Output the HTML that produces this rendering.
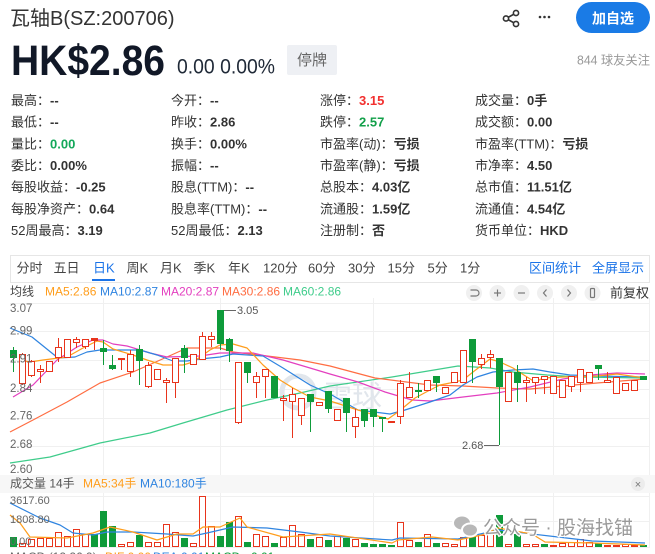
<!DOCTYPE html>
<html><head><meta charset="utf-8"><style>
html,body{margin:0;padding:0;background:#fff;width:655px;height:554px;overflow:hidden}
svg{display:block}
</style></head><body>
<svg width="655" height="554" viewBox="0 0 655 554" xmlns="http://www.w3.org/2000/svg" font-family="'Liberation Sans','Noto Sans CJK SC',sans-serif">
<rect width="655" height="554" fill="#fff"/>
<!-- header -->
<text x="10" y="25" font-size="20" fill="#333">瓦轴B(SZ:200706)</text>
<text x="11" y="75" font-size="43" font-weight="bold" fill="#111827" textLength="154" lengthAdjust="spacingAndGlyphs">HK$2.86</text>
<text x="177" y="73.5" font-size="21" fill="#1f2937" textLength="98" lengthAdjust="spacingAndGlyphs">0.00 0.00%</text>
<rect x="287" y="45" width="50" height="30" rx="2" fill="#eef0f4"/>
<text x="297" y="65" font-size="15" fill="#666">停牌</text>
<g stroke="#333" stroke-width="1.6" fill="none">
<line x1="506" y1="18.5" x2="516" y2="13"/><line x1="506" y1="18.5" x2="516" y2="24"/>
<circle cx="516" cy="13" r="2.6" fill="#fff"/><circle cx="506" cy="18.5" r="2.6" fill="#fff"/><circle cx="516" cy="24" r="2.6" fill="#fff"/>
</g>
<g fill="#333"><circle cx="540" cy="17" r="1.3"/><circle cx="544.5" cy="17" r="1.3"/><circle cx="549" cy="17" r="1.3"/></g>
<rect x="576" y="2" width="74" height="31" rx="15.5" fill="#1a7be6"/>
<text x="613" y="23.5" font-size="14" font-weight="bold" fill="#fff" text-anchor="middle">加自选</text>
<text x="577" y="64.5" font-size="12.5" fill="#999" textLength="73" lengthAdjust="spacingAndGlyphs">844 球友关注</text>
<!-- stats -->
<g font-size="13" fill="#333">
<text x="11" y="105">最高：<tspan font-weight="bold">--</tspan></text>
<text x="11" y="126.7">最低：<tspan font-weight="bold">--</tspan></text>
<text x="11" y="148.3">量比：<tspan font-weight="bold" fill="#13a85a">0.00</tspan></text>
<text x="11" y="170">委比：<tspan font-weight="bold">0.00%</tspan></text>
<text x="11" y="191.7">每股收益：<tspan font-weight="bold">-0.25</tspan></text>
<text x="11" y="213.3">每股净资产：<tspan font-weight="bold">0.64</tspan></text>
<text x="11" y="235">52周最高：<tspan font-weight="bold">3.19</tspan></text>
<text x="171" y="105">今开：<tspan font-weight="bold">--</tspan></text>
<text x="171" y="126.7">昨收：<tspan font-weight="bold">2.86</tspan></text>
<text x="171" y="148.3">换手：<tspan font-weight="bold">0.00%</tspan></text>
<text x="171" y="170">振幅：<tspan font-weight="bold">--</tspan></text>
<text x="171" y="191.7">股息(TTM)：<tspan font-weight="bold">--</tspan></text>
<text x="171" y="213.3">股息率(TTM)：<tspan font-weight="bold">--</tspan></text>
<text x="171" y="235">52周最低：<tspan font-weight="bold">2.13</tspan></text>
<text x="320" y="105">涨停：<tspan font-weight="bold" fill="#f2302f">3.15</tspan></text>
<text x="320" y="126.7">跌停：<tspan font-weight="bold" fill="#13a04a">2.57</tspan></text>
<text x="320" y="148.3">市盈率(动)：<tspan font-weight="bold">亏损</tspan></text>
<text x="320" y="170">市盈率(静)：<tspan font-weight="bold">亏损</tspan></text>
<text x="320" y="191.7">总股本：<tspan font-weight="bold">4.03亿</tspan></text>
<text x="320" y="213.3">流通股：<tspan font-weight="bold">1.59亿</tspan></text>
<text x="320" y="235">注册制：<tspan font-weight="bold">否</tspan></text>
<text x="475" y="105">成交量：<tspan font-weight="bold">0手</tspan></text>
<text x="475" y="126.7">成交额：<tspan font-weight="bold">0.00</tspan></text>
<text x="475" y="148.3">市盈率(TTM)：<tspan font-weight="bold">亏损</tspan></text>
<text x="475" y="170">市净率：<tspan font-weight="bold">4.50</tspan></text>
<text x="475" y="191.7">总市值：<tspan font-weight="bold">11.51亿</tspan></text>
<text x="475" y="213.3">流通值：<tspan font-weight="bold">4.54亿</tspan></text>
<text x="475" y="235">货币单位：<tspan font-weight="bold">HKD</tspan></text>
</g>
<!-- tabs -->
<rect x="10.5" y="255.5" width="639" height="27" fill="none" stroke="#e6e6e6"/>
<g font-size="13" fill="#444">
<text x="16.5" y="272.5">分时</text><text x="53.5" y="272.5">五日</text>
<text x="93" y="272.5" fill="#1a73e8">日K</text>
<text x="126.5" y="272.5">周K</text><text x="160" y="272.5">月K</text><text x="193.5" y="272.5">季K</text><text x="228" y="272.5">年K</text>
<text x="263" y="272.5">120分</text><text x="308" y="272.5">60分</text><text x="348" y="272.5">30分</text><text x="387.5" y="272.5">15分</text><text x="427.5" y="272.5">5分</text><text x="460" y="272.5">1分</text>
<text x="529" y="272.5" fill="#1a73e8">区间统计</text><text x="592" y="272.5" fill="#1a73e8">全屏显示</text>
</g>
<rect x="92" y="279" width="23" height="2" fill="#1a73e8"/>
<!-- MA legend -->
<g font-size="12">
<text x="10" y="295.5" fill="#444">均线</text>
<text x="45" y="295.5" fill="#ff9d1b">MA5:2.86</text>
<text x="100" y="295.5" fill="#2f84e0">MA10:2.87</text>
<text x="161" y="295.5" fill="#e33fbf">MA20:2.87</text>
<text x="222" y="295.5" fill="#ff6d42">MA30:2.86</text>
<text x="283" y="295.5" fill="#3fcc8b">MA60:2.86</text>
</g>
<g fill="#f0f0f0"><circle cx="474" cy="293" r="8"/><circle cx="497.5" cy="293" r="8"/><circle cx="521.5" cy="293" r="8"/><circle cx="545" cy="293" r="8"/><circle cx="569" cy="293" r="8"/><circle cx="592.5" cy="293" r="8"/></g>
<g stroke="#777" stroke-width="1.2" fill="none">
<path d="M470.5 290 H476 A3 3 0 0 1 476 296 H470.5"/>
<line x1="494" y1="293" x2="501" y2="293"/><line x1="497.5" y1="289.5" x2="497.5" y2="296.5"/>
<line x1="518" y1="293" x2="525" y2="293"/>
<path d="M546.5 289.5 L543.5 293 L546.5 296.5"/>
<path d="M567.5 289.5 L570.5 293 L567.5 296.5"/>
<rect x="590.5" y="288.5" width="4" height="9" rx="1"/>
</g>
<text x="610" y="297.5" font-size="13" fill="#333">前复权</text>
<!-- grid -->
<g stroke="#f0f0f0" stroke-width="1">
<line x1="10" y1="303.5" x2="650" y2="303.5"/><line x1="10" y1="331.5" x2="650" y2="331.5"/><line x1="10" y1="360.5" x2="650" y2="360.5"/><line x1="10" y1="389.5" x2="650" y2="389.5"/><line x1="10" y1="418.5" x2="650" y2="418.5"/><line x1="10" y1="446.5" x2="650" y2="446.5"/>
<line x1="103.5" y1="298" x2="103.5" y2="475"/><line x1="220.5" y1="298" x2="220.5" y2="475"/><line x1="373.5" y1="298" x2="373.5" y2="475"/><line x1="553.5" y1="298" x2="553.5" y2="475"/><line x1="649.5" y1="298" x2="649.5" y2="475"/>
<line x1="103.5" y1="493" x2="103.5" y2="547"/><line x1="220.5" y1="493" x2="220.5" y2="547"/><line x1="373.5" y1="493" x2="373.5" y2="547"/><line x1="553.5" y1="493" x2="553.5" y2="547"/><line x1="649.5" y1="493" x2="649.5" y2="547"/>
<line x1="10" y1="496.5" x2="650" y2="496.5"/><line x1="10" y1="521.5" x2="650" y2="521.5"/><line x1="10" y1="547.5" x2="650" y2="547.5"/>
</g>
<!-- xueqiu watermark -->
<circle cx="298" cy="392" r="16" fill="none" stroke="#e1e6ec" stroke-width="5"/>
<text x="322" y="407" font-size="30" fill="#e1e6ec">雪球</text>
<!-- MA lines -->
<g fill="none" stroke-width="1.2" stroke-linejoin="round">
<polyline stroke="#3fcc8b" points="10,463 50,457 100,443 150,433 183,423 227,410 267,400 300,393 330,386 392,377 458,366 475,367 490,368 513,372 547,375 580,377 645,378"/>
<polyline stroke="#ff6d42" points="10,432 33,420 67,402 100,383 133,372 167,357 187,348 220,348 233,352 267,356 300,360 330,366 375,378 430,385 463,386 497,388 530,389 563,386 597,383 645,379"/>
<polyline stroke="#e33fbf" points="13,397 33,385 57,360 77,347 93,340 103,340 113,344 127,346 150,353 167,357 200,356 220,353 253,353 283,360 310,368 330,374 358,382 385,392 412,400 430,401 463,397 497,393 530,387 563,379 590,375 617,373 645,374"/>
<polyline stroke="#2f84e0" points="10,328 32,337 58,358 75,357 87,352 100,350 140,350 157,355 173,361 187,361 200,359 220,357 233,354 263,356 283,368 310,385 330,394 358,410 390,414 405,410 430,402 450,395 463,385 477,377 493,372 513,370 533,369 550,372 570,375 597,376 645,377"/>
<polyline stroke="#ff9d1b" points="20,360 30,362 43,360 67,357 83,348 97,341 103,342 113,349 133,355 147,360 163,365 183,365 193,362 210,350 220,345 233,344 247,348 263,365 280,380 293,388 310,397 330,401 358,410 388,419 398,412 415,398 430,390 440,385 450,383 463,380 473,372 490,359 500,362 513,368 527,377 535,382 543,378 563,377 597,376 617,374 645,378"/>
</g>
<!-- candles green -->
<g fill="#0e9b3a" stroke="none">
<rect x="13" y="347" width="1" height="25"/><rect x="10" y="350" width="7" height="8"/>
<rect x="103" y="340" width="1" height="25"/><rect x="100" y="348" width="7" height="4"/>
<rect x="112" y="355" width="1" height="15"/><rect x="109" y="365" width="7" height="4"/>
<rect x="139" y="345" width="1" height="40"/><rect x="136" y="349" width="7" height="12"/>
<rect x="184" y="345" width="1" height="28"/><rect x="181" y="348" width="7" height="10"/>
<rect x="220" y="310" width="1" height="40"/><rect x="217" y="310" width="7" height="34"/>
<rect x="229" y="338" width="1" height="24"/><rect x="226" y="339" width="7" height="12"/>
<rect x="247" y="362" width="1" height="21"/><rect x="244" y="362" width="7" height="11"/>
<rect x="274" y="376" width="1" height="22"/><rect x="271" y="376" width="7" height="22"/>
<rect x="310" y="394" width="1" height="38"/><rect x="307" y="394" width="7" height="8"/>
<rect x="328" y="391" width="1" height="22"/><rect x="325" y="391" width="7" height="18"/>
<rect x="346" y="398" width="1" height="34"/><rect x="343" y="398" width="7" height="15"/>
<rect x="364" y="409" width="1" height="18"/><rect x="361" y="409" width="7" height="12"/>
<rect x="373" y="409" width="1" height="18"/><rect x="370" y="409" width="7" height="8"/>
<rect x="382" y="417" width="1" height="15"/><rect x="379" y="417" width="7" height="2"/>
<rect x="418" y="383" width="1" height="15"/><rect x="415" y="390" width="7" height="2"/>
<rect x="436" y="376" width="1" height="16"/><rect x="433" y="376" width="7" height="7"/>
<rect x="472" y="339" width="1" height="44"/><rect x="469" y="339" width="7" height="23"/>
<rect x="499" y="358" width="1" height="87"/><rect x="496" y="358" width="7" height="29"/>
<rect x="517" y="365" width="1" height="37"/><rect x="514" y="372" width="7" height="11"/>
<rect x="598" y="365" width="1" height="15"/><rect x="595" y="365" width="7" height="4"/>
<rect x="643" y="376" width="1" height="4"/><rect x="640" y="376" width="7" height="4"/>
</g>
<!-- candles red filled -->
<g fill="#e8341c">
<rect x="94" y="338" width="1" height="12"/><rect x="91" y="338" width="7" height="3"/>
<rect x="121" y="358" width="1" height="12"/><rect x="118" y="358" width="7" height="2"/>
<rect x="388" y="421" width="7" height="2"/>
</g>
<!-- candles red hollow -->
<g stroke="#e8341c" stroke-width="1" fill="#fff">
<line x1="22.5" y1="353" x2="22.5" y2="385"/><rect x="19.5" y="354.5" width="6" height="29"/>
<line x1="31.5" y1="360" x2="31.5" y2="377"/><rect x="28.5" y="361.5" width="6" height="14"/>
<line x1="40.5" y1="365" x2="40.5" y2="383"/><rect x="37.5" y="369.5" width="6" height="2"/>
<rect x="46.5" y="361.5" width="6" height="10"/>
<line x1="58.5" y1="338" x2="58.5" y2="362"/><rect x="55.5" y="347.5" width="6" height="10"/>
<rect x="64.5" y="339.5" width="6" height="18"/>
<line x1="76.5" y1="337" x2="76.5" y2="348"/><rect x="73.5" y="339.5" width="6" height="3"/>
<line x1="85.5" y1="339" x2="85.5" y2="349"/><rect x="82.5" y="339.5" width="6" height="7"/>
<line x1="130.5" y1="350" x2="130.5" y2="377"/><rect x="127.5" y="354.5" width="6" height="17"/>
<line x1="148.5" y1="362" x2="148.5" y2="388"/><rect x="145.5" y="365.5" width="6" height="21"/>
<rect x="154.5" y="369.5" width="6" height="10"/>
<line x1="166.5" y1="378" x2="166.5" y2="403"/><rect x="163.5" y="380.5" width="6" height="2"/>
<line x1="175.5" y1="358" x2="175.5" y2="398"/><rect x="172.5" y="358.5" width="6" height="24"/>
<rect x="190.5" y="354.5" width="6" height="10"/>
<line x1="202.5" y1="332" x2="202.5" y2="360"/><rect x="199.5" y="336.5" width="6" height="23"/>
<line x1="211.5" y1="332" x2="211.5" y2="347"/><rect x="208.5" y="336.5" width="6" height="3"/>
<line x1="238.5" y1="362" x2="238.5" y2="424"/><rect x="235.5" y="362.5" width="6" height="60"/>
<line x1="256.5" y1="372" x2="256.5" y2="398"/><rect x="253.5" y="376.5" width="6" height="6"/>
<line x1="265.5" y1="369" x2="265.5" y2="398"/><rect x="262.5" y="369.5" width="6" height="7"/>
<line x1="283.5" y1="395" x2="283.5" y2="421"/><rect x="280.5" y="398.5" width="6" height="2"/>
<line x1="292.5" y1="388" x2="292.5" y2="438"/><rect x="289.5" y="394.5" width="6" height="7"/>
<line x1="301.5" y1="398" x2="301.5" y2="425"/><rect x="298.5" y="398.5" width="6" height="17"/>
<rect x="316.5" y="402.5" width="6" height="3"/>
<rect x="334.5" y="409.5" width="6" height="11"/>
<line x1="355.5" y1="409" x2="355.5" y2="438"/><rect x="352.5" y="417.5" width="6" height="9"/>
<line x1="400.5" y1="380" x2="400.5" y2="424"/><rect x="397.5" y="383.5" width="6" height="33"/>
<line x1="409.5" y1="372" x2="409.5" y2="398"/><rect x="406.5" y="387.5" width="6" height="10"/>
<rect x="424.5" y="380.5" width="6" height="10"/>
<rect x="442.5" y="387.5" width="6" height="6"/>
<rect x="451.5" y="372.5" width="6" height="10"/>
<rect x="460.5" y="350.5" width="6" height="32"/>
<line x1="481.5" y1="354" x2="481.5" y2="369"/><rect x="478.5" y="358.5" width="6" height="6"/>
<line x1="490.5" y1="350" x2="490.5" y2="368"/><rect x="487.5" y="354.5" width="6" height="3"/>
<rect x="505.5" y="372.5" width="6" height="29"/>
<line x1="526.5" y1="377" x2="526.5" y2="402"/><rect x="523.5" y="380.5" width="6" height="2"/>
<line x1="535.5" y1="377" x2="535.5" y2="394"/><rect x="532.5" y="377.5" width="6" height="5"/>
<line x1="544.5" y1="376" x2="544.5" y2="394"/><rect x="541.5" y="376.5" width="6" height="3"/>
<rect x="550.5" y="376.5" width="6" height="17"/>
<rect x="559.5" y="380.5" width="6" height="17"/>
<line x1="571.5" y1="376" x2="571.5" y2="392"/><rect x="568.5" y="376.5" width="6" height="10"/>
<line x1="580.5" y1="369" x2="580.5" y2="392"/><rect x="577.5" y="369.5" width="6" height="13"/>
<rect x="586.5" y="372.5" width="6" height="10"/>
<line x1="607.5" y1="372" x2="607.5" y2="383"/><rect x="604.5" y="380.5" width="6" height="2"/>
<rect x="613.5" y="377.5" width="6" height="16"/>
<rect x="622.5" y="383.5" width="6" height="7"/>
<rect x="631.5" y="380.5" width="6" height="10"/>
</g>
<!-- annotations -->
<line x1="224" y1="310.5" x2="236" y2="310.5" stroke="#666"/>
<text x="237" y="314" font-size="11" fill="#555">3.05</text>
<line x1="484" y1="445.5" x2="499" y2="445.5" stroke="#666"/>
<text x="462" y="449" font-size="11" fill="#555">2.68</text>
<!-- y labels -->
<g font-size="11.5" fill="#666">
<text x="10" y="312">3.07</text><text x="10" y="334.5">2.99</text><text x="10" y="362.5">2.91</text><text x="10" y="392">2.84</text><text x="10" y="419.5">2.76</text><text x="10" y="448">2.68</text><text x="10" y="473">2.60</text>
</g>
<!-- volume header -->
<rect x="0" y="475" width="655" height="18" fill="#f7f7f7"/>
<g font-size="12">
<text x="10" y="487.5" fill="#555">成交量 14手</text>
<text x="83" y="487.5" fill="#ff9d1b">MA5:34手</text>
<text x="140" y="487.5" fill="#2f84e0">MA10:180手</text>
</g>
<circle cx="638" cy="484" r="7" fill="#ececec"/>
<text x="638" y="488" font-size="11" fill="#777" text-anchor="middle">×</text>
<!-- volume bars green -->
<g fill="#0e9b3a">
<rect x="10" y="537" width="7" height="10"/><rect x="91" y="534" width="7" height="13"/><rect x="100" y="511" width="7" height="36"/><rect x="109" y="526" width="7" height="21"/>
<rect x="136" y="535" width="7" height="12"/><rect x="181" y="538" width="7" height="9"/><rect x="217" y="536" width="7" height="11"/><rect x="226" y="522" width="7" height="25"/>
<rect x="244" y="542" width="7" height="5"/><rect x="271" y="543" width="7" height="4"/><rect x="307" y="539" width="7" height="8"/><rect x="325" y="540" width="7" height="7"/>
<rect x="343" y="538" width="7" height="9"/><rect x="361" y="543" width="7" height="4"/><rect x="370" y="544" width="7" height="3"/><rect x="379" y="544" width="7" height="3"/>
<rect x="388" y="545" width="7" height="2"/><rect x="415" y="542" width="7" height="5"/><rect x="433" y="543" width="7" height="4"/><rect x="469" y="533" width="7" height="14"/>
<rect x="496" y="515" width="7" height="32"/><rect x="514" y="534" width="7" height="13"/><rect x="541" y="544" width="7" height="3"/><rect x="595" y="543" width="7" height="4"/>
<rect x="640" y="545" width="7" height="2"/>
</g>
<!-- volume bars red -->
<g stroke="#e8341c" fill="#fff">
<rect x="19.5" y="543.5" width="6" height="3"/><rect x="28.5" y="539.5" width="6" height="7"/><rect x="37.5" y="538.5" width="6" height="8"/><rect x="46.5" y="538.5" width="6" height="8"/>
<rect x="55.5" y="532.5" width="6" height="14"/><rect x="64.5" y="536.5" width="6" height="10"/><rect x="73.5" y="529.5" width="6" height="17"/><rect x="82.5" y="534.5" width="6" height="12"/>
<rect x="118.5" y="544.5" width="6" height="2"/><rect x="127.5" y="542.5" width="6" height="4"/><rect x="145.5" y="542.5" width="6" height="4"/><rect x="154.5" y="542.5" width="6" height="4"/>
<rect x="163.5" y="524.5" width="6" height="22"/><rect x="172.5" y="532.5" width="6" height="14"/><rect x="190.5" y="543.5" width="6" height="3"/><rect x="199.5" y="496.5" width="6" height="50"/>
<rect x="208.5" y="526.5" width="6" height="20"/><rect x="235.5" y="516.5" width="6" height="30"/><rect x="253.5" y="534.5" width="6" height="12"/><rect x="262.5" y="536.5" width="6" height="10"/>
<rect x="280.5" y="537.5" width="6" height="9"/><rect x="289.5" y="525.5" width="6" height="21"/><rect x="298.5" y="534.5" width="6" height="12"/><rect x="316.5" y="537.5" width="6" height="9"/>
<rect x="334.5" y="536.5" width="6" height="10"/><rect x="352.5" y="539.5" width="6" height="7"/><rect x="397.5" y="522.5" width="6" height="24"/><rect x="406.5" y="540.5" width="6" height="6"/>
<rect x="424.5" y="534.5" width="6" height="12"/><rect x="442.5" y="543.5" width="6" height="3"/><rect x="451.5" y="544.5" width="6" height="2"/><rect x="460.5" y="537.5" width="6" height="9"/>
<rect x="478.5" y="535.5" width="6" height="11"/><rect x="487.5" y="532.5" width="6" height="14"/><rect x="505.5" y="544.5" width="6" height="2"/><rect x="523.5" y="544.5" width="6" height="2"/>
<rect x="532.5" y="544.5" width="6" height="2"/><rect x="550.5" y="545.5" width="6" height="1"/><rect x="559.5" y="543.5" width="6" height="3"/><rect x="568.5" y="542.5" width="6" height="4"/>
<rect x="577.5" y="539.5" width="6" height="7"/><rect x="586.5" y="542.5" width="6" height="4"/><rect x="604.5" y="545.5" width="6" height="1"/><rect x="613.5" y="545.5" width="6" height="1"/>
<rect x="622.5" y="544.5" width="6" height="2"/><rect x="631.5" y="545.5" width="6" height="1"/>
</g>
<!-- volume MA -->
<g fill="none" stroke-width="1.2" stroke-linejoin="round">
<polyline stroke="#2f84e0" points="10,503 40,518 60,525 73,533 93,535 107,532 133,532 167,534 193,536 207,533 233,527 267,528 300,532 330,536 392,540 400,538 458,539 498,530 558,537 592,541 645,543"/>
<polyline stroke="#ff9d1b" points="10,515 20,523 30,537 67,538 93,533 110,527 133,532 157,540 177,534 193,534 203,527 220,527 240,518 247,527 283,537 330,534 392,543 398,540 432,537 458,540 482,535 498,528 532,534 545,542 592,543 645,545"/>
</g>
<!-- volume labels -->
<g font-size="11" fill="#666">
<text x="10" y="504">3617.60</text><text x="10" y="523">1808.80</text><text x="10" y="545">0.00</text>
</g>
<!-- MACD cut-off -->
<g font-size="12">
<text x="10" y="561" fill="#666">MACD (12,26,9)</text>
<text x="105" y="561" fill="#ff9d1b">DIF:0.00</text>
<text x="153" y="561" fill="#2f84e0">DEA:0.01</text>
<text x="205" y="561" fill="#0e9b3a">MACD: -0.01</text>
</g>
<!-- wechat watermark -->
<g stroke="#fff" stroke-width="2">
<ellipse cx="462" cy="523" rx="9" ry="7.5" fill="#b8b8b8"/>
<ellipse cx="470" cy="530" rx="8" ry="6.5" fill="#b8b8b8"/>
</g>
<text x="483" y="534" font-size="19" fill="#9a9a9a" stroke="#fff" stroke-width="2.5" paint-order="stroke" textLength="150" lengthAdjust="spacingAndGlyphs">公众号 · 股海找锚</text>
</svg>
</body></html>
